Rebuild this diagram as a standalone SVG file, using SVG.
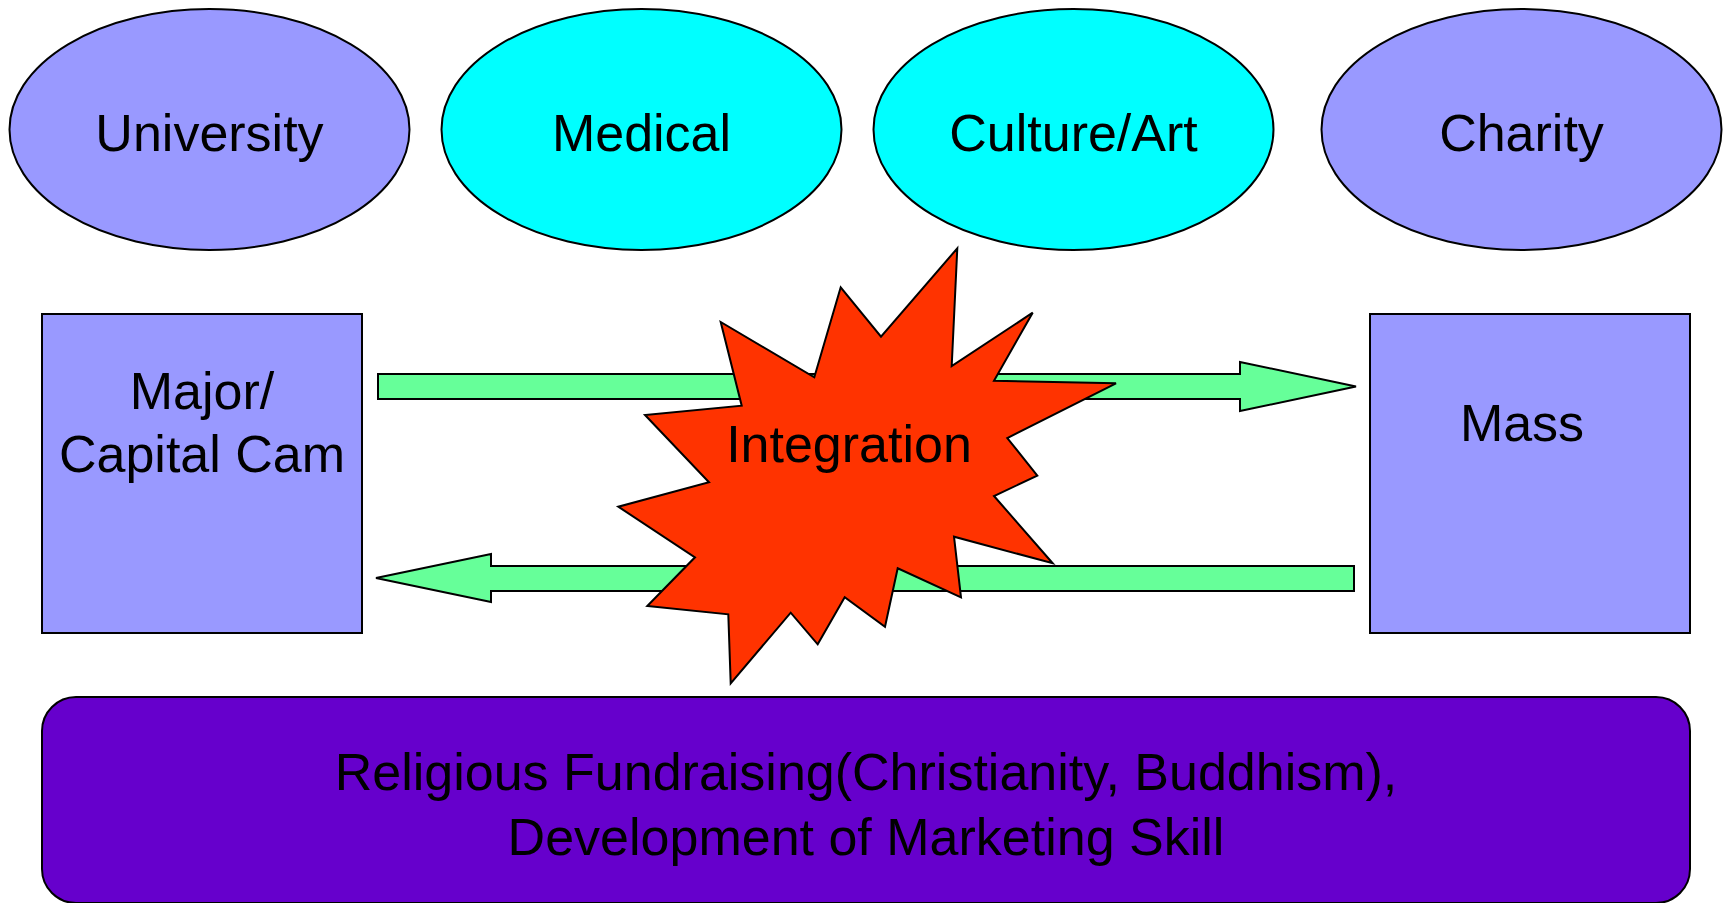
<svg xmlns="http://www.w3.org/2000/svg" width="1724" height="903" viewBox="0 0 1724 903">
<style>
.lbl{font-family:"Liberation Sans",Arial,sans-serif;font-size:52px;fill:#000;text-anchor:middle}
.sh{stroke:#000;stroke-width:2}
.lav{fill:#9999FF}
.cyan{fill:#00FFFF}
.arrow{fill:#66FF99;stroke:#000;stroke-width:2}
</style>
<rect width="1724" height="903" fill="#fff"/>
<g id="university"><ellipse class="sh lav" cx="209.5" cy="129.5" rx="200" ry="120.5"/><text class="lbl" x="209.5" y="151">University</text></g>
<g id="medical"><ellipse class="sh cyan" cx="641.5" cy="129.5" rx="200" ry="120.5"/><text class="lbl" x="641.5" y="151">Medical</text></g>
<g id="culture"><ellipse class="sh cyan" cx="1073.5" cy="129.5" rx="200" ry="120.5"/><text class="lbl" x="1073.5" y="151">Culture/Art</text></g>
<g id="charity"><ellipse class="sh lav" cx="1521.5" cy="129.5" rx="200" ry="120.5"/><text class="lbl" x="1521.5" y="151">Charity</text></g>
<g id="major"><rect class="sh lav" x="42" y="314" width="320" height="319"/><text class="lbl" x="202" y="409">Major/</text><text class="lbl" x="202" y="472">Capital Cam</text></g>
<g id="mass"><rect class="sh lav" x="1370" y="314" width="320" height="319"/><text class="lbl" x="1522" y="441">Mass</text></g>
<g id="connectors">
<polygon class="arrow" points="378,374 1240,374 1240,362 1356,386.5 1240,411 1240,399 378,399"/>
<polygon class="arrow" points="1354,566 491,566 491,554 376,578 491,602 491,591 1354,591"/>
</g>
<g id="integration"><polygon fill="#FF3300" stroke="#000" stroke-width="2" points="957.3,248.3 951.7,366 1032.7,312.7 994,380.7 1116,383.3 1007.3,438 1037.3,475.7 994,496 1052.7,563.3 954,536.7 961,597.3 897.7,568.3 885,626.7 844.7,597.3 817.7,644.3 790.7,612.7 730.7,683.3 728.3,614.3 647.3,606 695,557.3 618.3,506.7 709,482.3 645,415 741.7,405.7 720.7,322 814.3,377.3 840.7,287.3 881,336.7"/><text class="lbl" x="849" y="462">Integration</text></g>
<g id="religious"><rect x="42" y="697" width="1648" height="206" rx="34" ry="34" fill="#6600CC" stroke="#000" stroke-width="2"/><text class="lbl" x="866" y="790">Religious Fundraising(Christianity, Buddhism),</text><text class="lbl" x="866" y="855">Development of Marketing Skill</text></g>
</svg>
